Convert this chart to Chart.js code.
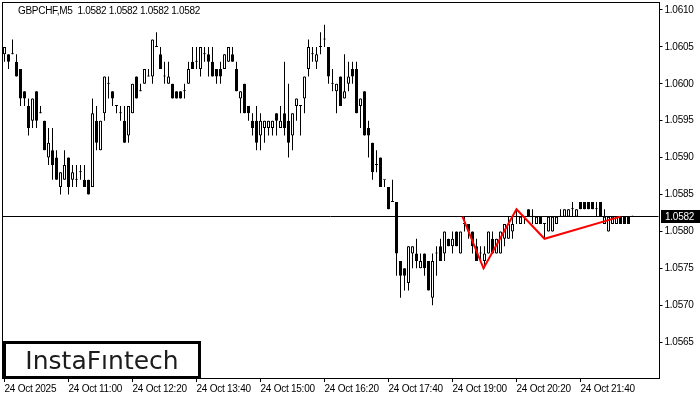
<!DOCTYPE html>
<html><head><meta charset="utf-8">
<script src="https://cdn.jsdelivr.net/npm/chart.js@4.4.1/dist/chart.umd.min.js"></script>
<style>html,body{margin:0;padding:0;background:#fff;}canvas{display:block;}</style>
</head><body><canvas id="c" width="700" height="400"></canvas>
<script>
const symbol = 'GBPCHF,M5';
const lastQuote = ['1.0582','1.0582','1.0582','1.0582'];
const currentPrice = 1.0582;
const logoText = 'InstaF\u0131ntech';

const openP = [
1.0604,1.0604,1.0604,1.0603,1.0602,1.0599,1.0597,1.0595,1.0599,1.0596,
1.0595,1.0590,1.0591,1.0590,1.0586,1.0587,1.0590,1.0587,1.0587,1.0588,
1.0587,1.0587,1.0586,1.0595,1.0591,1.0596,1.0600,1.0599,1.0597,1.0596,
1.0595,1.0593,1.0596,1.0601,1.0599,1.0600,1.0601,1.0601,1.0605,1.0604,
1.0601,1.0600,1.0600,1.0599,1.0599,1.0599,1.0600,1.0603,1.0603,1.0602,
1.0604,1.0604,1.0603,1.0602,1.0602,1.0602,1.0603,1.0604,1.0602,1.0598,
1.0600,1.0597,1.0595,1.0595,1.0593,1.0594,1.0594,1.0594,1.0596,1.0594,
1.0596,1.0595,1.0593,1.0597,1.0597,1.0598,1.0602,1.0604,1.0603,1.0605,
1.0606,1.0605,1.0600,1.0599,1.0601,1.0598,1.0600,1.0602,1.0602,1.0597,
1.0599,1.0594,1.0592,1.0589,1.0590,1.0587,1.0586,1.0584,1.0584,1.0576,
1.0575,1.0573,1.0577,1.0577,1.0575,1.0577,1.0576,1.0571,1.0577,1.0578,
1.0577,1.0579,1.0578,1.0580,1.0577,1.0581,1.0581,1.0580,1.0578,1.0577,
1.0576,1.0577,1.0579,1.0577,1.0577,1.0579,1.0579,1.0580,1.0582,1.0581,
1.0582,1.0583,1.0582,1.0581,1.0582,1.0581,1.0580,1.0580,1.0581,1.0582,
1.0582,1.0582,1.0583,1.0582,1.0584,1.0584,1.0584,1.0584,1.0583,1.0584,
1.0581,1.0580,1.0581,1.0581,1.0582,1.0582,1.0582,1.0582];
const highP = [
1.0605,1.0604,1.0606,1.0604,1.0602,1.0599,1.0598,1.0598,1.0599,1.0597,
1.0595,1.0594,1.0594,1.0591,1.0588,1.0591,1.0590,1.0589,1.0589,1.0589,
1.0589,1.0587,1.0598,1.0597,1.0595,1.0601,1.0601,1.0599,1.0597,1.0597,
1.0597,1.0597,1.0600,1.0601,1.0600,1.0602,1.0602,1.0606,1.0607,1.0605,
1.0603,1.0603,1.0600,1.0599,1.0599,1.0600,1.0603,1.0605,1.0605,1.0605,
1.0605,1.0605,1.0605,1.0602,1.0603,1.0604,1.0605,1.0605,1.0603,1.0599,
1.0600,1.0597,1.0596,1.0597,1.0596,1.0595,1.0595,1.0595,1.0596,1.0597,
1.0603,1.0600,1.0596,1.0598,1.0597,1.0601,1.0606,1.0605,1.0605,1.0607,
1.0608,1.0605,1.0602,1.0600,1.0601,1.0604,1.0603,1.0603,1.0603,1.0598,
1.0599,1.0595,1.0592,1.0591,1.0590,1.0587,1.0586,1.0587,1.0584,1.0576,
1.0575,1.0578,1.0578,1.0579,1.0577,1.0577,1.0576,1.0577,1.0578,1.0579,
1.0580,1.0579,1.0580,1.0580,1.0580,1.0582,1.0581,1.0580,1.0579,1.0578,
1.0578,1.0580,1.0580,1.0579,1.0580,1.0581,1.0582,1.0582,1.0583,1.0582,
1.0582,1.0583,1.0583,1.0582,1.0582,1.0581,1.0582,1.0582,1.0582,1.0583,
1.0583,1.0583,1.0584,1.0583,1.0584,1.0584,1.0584,1.0584,1.0584,1.0584,
1.0583,1.0582,1.0582,1.0582,1.0582,1.0582,1.0582,1.0582];
const lowP = [
1.0603,1.0602,1.0604,1.0601,1.0597,1.0597,1.0593,1.0594,1.0594,1.0596,
1.0591,1.0589,1.0587,1.0587,1.0585,1.0587,1.0585,1.0586,1.0586,1.0587,
1.0586,1.0585,1.0586,1.0591,1.0591,1.0595,1.0598,1.0597,1.0596,1.0595,
1.0592,1.0592,1.0596,1.0598,1.0599,1.0600,1.0601,1.0600,1.0605,1.0602,
1.0600,1.0600,1.0598,1.0598,1.0598,1.0598,1.0600,1.0602,1.0602,1.0601,
1.0603,1.0601,1.0601,1.0600,1.0600,1.0602,1.0603,1.0603,1.0599,1.0596,
1.0596,1.0595,1.0593,1.0591,1.0591,1.0592,1.0593,1.0593,1.0593,1.0594,
1.0593,1.0590,1.0591,1.0595,1.0593,1.0596,1.0601,1.0603,1.0602,1.0604,
1.0605,1.0600,1.0599,1.0596,1.0597,1.0598,1.0599,1.0600,1.0596,1.0594,
1.0593,1.0590,1.0587,1.0588,1.0586,1.0586,1.0583,1.0584,1.0574,1.0571,
1.0572,1.0572,1.0575,1.0575,1.0575,1.0574,1.0572,1.0570,1.0574,1.0576,
1.0576,1.0578,1.0577,1.0578,1.0577,1.0580,1.0579,1.0577,1.0576,1.0576,
1.0575,1.0577,1.0577,1.0577,1.0577,1.0578,1.0579,1.0579,1.0581,1.0581,
1.0581,1.0582,1.0581,1.0581,1.0581,1.0579,1.0580,1.0580,1.0581,1.0582,
1.0582,1.0582,1.0582,1.0582,1.0583,1.0583,1.0583,1.0583,1.0582,1.0582,
1.0581,1.0580,1.0581,1.0581,1.0581,1.0581,1.0581,1.0582];
const closeP = [
1.0605,1.0603,1.0604,1.0601,1.0598,1.0598,1.0594,1.0598,1.0595,1.0596,
1.0591,1.0592,1.0589,1.0587,1.0588,1.0589,1.0586,1.0588,1.0587,1.0588,
1.0586,1.0585,1.0596,1.0592,1.0595,1.0601,1.0600,1.0598,1.0597,1.0596,
1.0592,1.0597,1.0600,1.0598,1.0599,1.0602,1.0601,1.0606,1.0605,1.0602,
1.0601,1.0601,1.0598,1.0598,1.0598,1.0599,1.0602,1.0602,1.0603,1.0605,
1.0604,1.0603,1.0601,1.0601,1.0601,1.0604,1.0605,1.0603,1.0599,1.0599,
1.0596,1.0596,1.0594,1.0592,1.0595,1.0595,1.0595,1.0595,1.0595,1.0595,
1.0594,1.0592,1.0596,1.0598,1.0597,1.0601,1.0605,1.0604,1.0604,1.0605,
1.0606,1.0601,1.0600,1.0600,1.0597,1.0599,1.0601,1.0601,1.0596,1.0598,
1.0593,1.0593,1.0588,1.0589,1.0586,1.0587,1.0583,1.0584,1.0577,1.0574,
1.0574,1.0578,1.0578,1.0576,1.0576,1.0575,1.0572,1.0576,1.0577,1.0576,
1.0580,1.0578,1.0579,1.0578,1.0580,1.0581,1.0580,1.0578,1.0576,1.0577,
1.0577,1.0580,1.0577,1.0579,1.0580,1.0581,1.0581,1.0581,1.0582,1.0582,
1.0582,1.0582,1.0582,1.0582,1.0581,1.0581,1.0582,1.0582,1.0582,1.0582,
1.0583,1.0583,1.0583,1.0583,1.0583,1.0583,1.0583,1.0583,1.0583,1.0582,
1.0582,1.0582,1.0582,1.0582,1.0581,1.0581,1.0581,1.0582];

// time axis: 5-minute slots starting 24 Oct 09:40
const startMinutes = 9 * 60 + 40;
const barMinutes = 5;
const totalSlots = 164;
const tickEvery = 16;
const tickLabels = ['24 Oct 2025','24 Oct 11:00','24 Oct 12:20','24 Oct 13:40','24 Oct 15:00',
  '24 Oct 16:20','24 Oct 17:40','24 Oct 19:00','24 Oct 20:20','24 Oct 21:40'];
const yTicks = [1.0565,1.0570,1.0575,1.0580,1.0585,1.0590,1.0595,1.0600,1.0605,1.0610];

// pattern line (bar index, price)
const patternIdx = [114.5, 119.75, 128, 135, 154];
const patternPrice = [1.0582, 1.0575, 1.0583, 1.0579, 1.0582];

const categories = [];
for (let i = 0; i < totalSlots; i++) {
  const k = i / tickEvery;
  if (i % tickEvery === 0 && k < tickLabels.length) { categories.push(tickLabels[k]); continue; }
  const m = startMinutes + i * barMinutes;
  const hh = String(Math.floor(m / 60) % 24).padStart(2, '0');
  const mm = String(m % 60).padStart(2, '0');
  categories.push('24 Oct ' + hh + ':' + mm);
}

const wickData = lowP.map((l, i) => [l, highP[i]]);
const bodyData = openP.map((o, i) => [o, closeP[i]]);
const patternData = patternIdx.map((x, i) => ({ x: x, y: patternPrice[i] }));

const FONT = 'Liberation Sans';
const yMax = 1.061027, yMin = 1.0560137;

const decor = {
  id: 'decor',
  beforeDraw(chart) {
    const ctx = chart.ctx;
    ctx.save(); ctx.fillStyle = '#fff'; ctx.fillRect(0, 0, chart.width, chart.height); ctx.restore();
    ctx.letterSpacing = '-0.25px';
  },
  beforeDatasetsDraw(chart) {
    const ctx = chart.ctx, a = chart.chartArea, ys = chart.scales.y;
    const py = Math.round(ys.getPixelForValue(currentPrice)) - 0.5;
    ctx.save();
    ctx.strokeStyle = '#000'; ctx.lineWidth = 1;
    ctx.beginPath(); ctx.moveTo(a.left, py); ctx.lineTo(a.right, py); ctx.stroke();
    ctx.restore();
  },
  afterDraw(chart) {
    const ctx = chart.ctx, a = chart.chartArea, ys = chart.scales.y;
    const R = Math.round(a.right);
    ctx.save();
    // frame
    ctx.strokeStyle = '#000'; ctx.lineWidth = 1;
    ctx.strokeRect(2.5, 2.5, R - 2, Math.round(a.bottom) - 2);
    // header
    ctx.fillStyle = '#000'; ctx.font = '10px "' + FONT + '"';
    ctx.letterSpacing = '-0.3px';
    ctx.textBaseline = 'alphabetic'; ctx.textAlign = 'left';
    ctx.fillText(symbol + '  ' + lastQuote.join(' '), 18, 14);
    // current price label
    const py = Math.round(ys.getPixelForValue(currentPrice)) - 0.5;
    ctx.fillStyle = '#000';
    ctx.fillRect(R + 2, py - 6.5, 700 - R - 2, 13);
    ctx.fillStyle = '#fff'; ctx.textBaseline = 'middle';
    ctx.letterSpacing = '-0.25px';
    ctx.fillText(currentPrice.toFixed(4), R + 6, py + 0.5);
    // logo
    ctx.fillStyle = '#fff'; ctx.fillRect(4, 342, 196, 36);
    ctx.strokeStyle = '#000'; ctx.lineWidth = 3;
    ctx.strokeRect(4.5, 342.5, 195, 35);
    ctx.fillStyle = '#1c1c1c';
    ctx.letterSpacing = '0px';
    ctx.font = '25px "DejaVu Sans"';
    ctx.textAlign = 'center'; ctx.textBaseline = 'alphabetic';
    ctx.fillText(logoText, 102, 368.5);
    ctx.restore();
  }
};

const layoutPad = { left: 2.5, top: 2, right: 0, bottom: 0 };
let yAxisWidth = 41.5;

const chart = new Chart(document.getElementById('c'), {
  type: 'bar',
  data: {
    labels: categories,
    datasets: [
      { type: 'line', xAxisID: 'x2', data: patternData, borderColor: '#ff0000', borderWidth: 2,
        pointRadius: 0, tension: 0, fill: false, order: -1 },
      { type: 'bar', data: bodyData, barThickness: 3, grouped: false, order: 0,
        backgroundColor: c => (closeP[c.dataIndex] > openP[c.dataIndex] ? '#ffffff' : '#000000'),
        borderColor: '#000', borderWidth: 1, borderSkipped: false, minBarLength: 1, inflateAmount: 0 },
      { type: 'bar', data: wickData, barThickness: 1, grouped: false, order: 1,
        backgroundColor: '#000', borderWidth: 0, minBarLength: 1, inflateAmount: 0 }
    ]
  },
  options: {
    responsive: false, animation: false, devicePixelRatio: 1,
    layout: { padding: layoutPad },
    plugins: { legend: { display: false }, tooltip: { enabled: false }, title: { display: false } },
    scales: {
      x: {
        type: 'category', offset: true,
        grid: { display: true, drawOnChartArea: false, drawTicks: true, tickLength: 4, color: '#000', offset: false },
        border: { display: false },
        ticks: { autoSkip: false, maxRotation: 0, minRotation: 0, align: 'start', padding: 1, color: '#000',
          font: { family: FONT, size: 10 } },
        afterBuildTicks: s => { s.ticks = s.ticks.filter(t => t.value % tickEvery === 0 && t.value / tickEvery < tickLabels.length); },
        afterFit: s => { s.height = 22; }
      },
      x2: { type: 'linear', display: false, offset: false, bounds: 'data', min: -0.5, max: totalSlots - 0.5,
        grid: { offset: false } },
      y: {
        type: 'linear', position: 'right', min: yMin, max: yMax,
        afterBuildTicks: s => { s.ticks = yTicks.map(v => ({ value: v })); },
        grid: { display: true, drawOnChartArea: false, drawTicks: true, tickLength: 4, color: '#000' },
        border: { display: false },
        ticks: { color: '#000', padding: 2, font: { family: FONT, size: 10 }, callback: v => Number(v).toFixed(4) },
        afterFit: s => { s.width = yAxisWidth; }
      }
    }
  },
  plugins: [decor]
});

// keep candle centres on half pixels (crisp 1px wicks / 3px bodies) with a 4px pitch
for (let pass = 0; pass < 3; pass++) {
  const xs = chart.scales.x;
  const span = xs.right - xs.left;
  const c0 = xs.getPixelForValue(0);
  const wantSpan = totalSlots * 4;
  const wantC0 = 4.5;
  if (Math.abs(span - wantSpan) < 0.01 && Math.abs(c0 - wantC0) < 0.01) break;
  layoutPad.left += (wantC0 - c0);
  yAxisWidth += (span - wantSpan) - (wantC0 - c0);
  chart.options.layout.padding = Object.assign({}, layoutPad);
  chart.update('none');
}
</script>
</body></html>
